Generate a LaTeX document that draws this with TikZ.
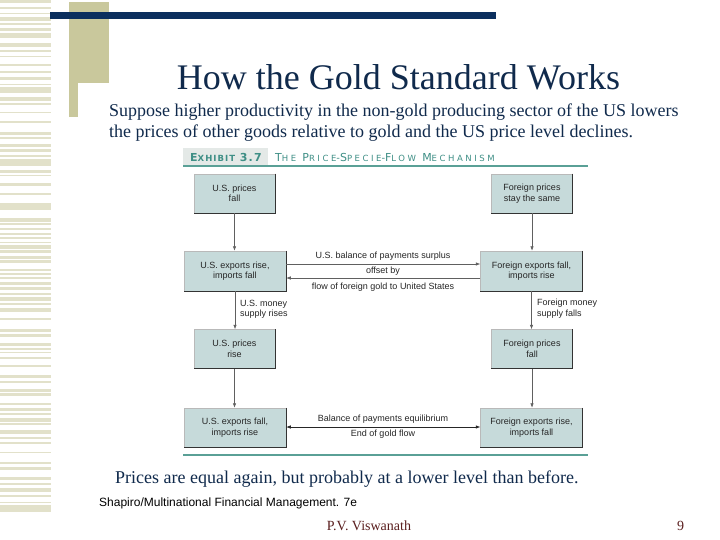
\documentclass[tikz,border=0pt]{standalone}
\usepackage{fontspec}
\setmainfont{Liberation Serif}
\setsansfont{Liberation Sans}
\newfontfamily\hdrA[LetterSpace=12]{DejaVu Sans}
\newfontfamily\hdrB[LetterSpace=30]{DejaVu Sans}
\usetikzlibrary{arrows.meta}
\definecolor{navy}{HTML}{0B2F5E}
\definecolor{tanbar}{HTML}{C9C89C}
\definecolor{stripe}{HTML}{E2E1CA}
\definecolor{titlecol}{HTML}{102A4C}
\definecolor{boxfill}{HTML}{C6DADA}
\definecolor{tealline}{HTML}{5AA096}
\definecolor{tealtext}{HTML}{3F8F86}
\definecolor{tabgray}{HTML}{E4E9E7}
\definecolor{authcol}{HTML}{5A1E1E}
\newcommand\fsc[2]{{\fontsize{11}{11}\selectfont #1}{\fontsize{8.5}{8.5}\selectfont #2}}
\tikzset{
  fbox/.style={fill=boxfill, draw=gray!55, line width=0.5pt, inner sep=0pt,
    font=\sffamily\fontsize{9}{10.5}\selectfont, align=center, text=black!85},
  flow/.style={draw=gray!75!black, line width=0.6pt, -{Latex[length=4.5pt,width=3.5pt]}},
  bothflow/.style={draw=black!85, line width=0.6pt, {Latex[length=4.5pt,width=3.5pt]}-{Latex[length=4.5pt,width=3.5pt]}},
  lab/.style={font=\sffamily\fontsize{9}{10.5}\selectfont, inner sep=0pt, text=black!85},
  shade/.style={draw=black!80, line width=0.8pt},
}
\begin{document}
\begin{tikzpicture}[x=1pt,y=-1pt]
\useasboundingbox (0,0) rectangle (720,540);
\fill[white] (0,0) rectangle (720,540);
% left stripes
\foreach \a/\b in {0/3, 7/9, 13/14, 17/21, 23/25, 28/31, 33/38, 43/47, 50/52, 56/57, 64/66, 71/73, 77/80, 84/85, 87/93, 97/101, 103/105, 112/113, 121/123, 132/135, 137/139, 144/147, 149/152, 155/157, 159/166, 170/173, 175/176, 183/186, 193/195, 203/210, 218/222, 223/225, 228/230, 233/235, 237/239, 242/243, 245/249, 250/253, 256/259, 260/263, 269/271, 273/275, 277/279, 282/285, 287/290, 293/295, 297/301, 303/305, 308/312, 318/320, 329/332, 334/337, 343/346, 348/350, 352/353, 357/359, 365/367, 375/378, 381/383, 389/392, 393/396, 403/405, 408/411, 413/415, 418/422, 423/425, 430/434, 437/439, 442/444, 452/453, 462/464, 467/470, 477/480, 483/485, 488/492, 495/497, 502/503, 505/512}
  \fill[stripe] (0,\a) rectangle (51,\b);
% tan block and navy bar
\fill[tanbar] (69,2) rectangle (109,83);
\fill[tanbar] (69,83) rectangle (78,117);
\fill[navy] (50,12) rectangle (496,19);
% title and texts
\node[inner sep=0pt, anchor=base, text=titlecol, font=\fontsize{36}{36}\selectfont] (title) at (398.5,90) {How the Gold Standard Works};
\node[inner sep=0pt, anchor=base west, text=titlecol, font=\fontsize{18}{18}\selectfont] (sub1) at (109,117) {Suppose higher productivity in the non-gold producing sector of the US lowers};
\node[inner sep=0pt, anchor=base west, text=titlecol, font=\fontsize{18}{18}\selectfont] (sub2) at (109,138) {the prices of other goods relative to gold and the US price level declines.};
% exhibit header
\fill[tabgray] (183,148) rectangle (268,166);
\node[inner sep=0pt, anchor=base west, text=tealtext, font=\hdrA\bfseries] (ex) at (190,162) {\fsc{E}{XHIBIT} \fsc{3.7}{}};
\node[inner sep=0pt, anchor=base west, text=tealtext, font=\hdrB] (extitle) at (275,162) {\fsc{T}{HE} \fsc{P}{RICE}-\fsc{S}{PECIE}-\fsc{F}{LOW} \fsc{M}{ECHANISM}};
\fill[tealline] (183,165) rectangle (588,167);
\fill[tealline] (183,454) rectangle (588,456);
% boxes
\node[fbox, minimum width=81pt, minimum height=39pt] (a1) at (234.5,193.5) {U.S. prices\\fall};
\node[fbox, minimum width=81pt, minimum height=39pt] (b1) at (532,193.5) {Foreign prices\\stay the same};
\node[fbox, minimum width=102pt, minimum height=40pt] (a2) at (235,271) {U.S. exports rise,\\imports fall};
\node[fbox, minimum width=102pt, minimum height=40pt] (b2) at (531.5,271) {Foreign exports fall,\\imports rise};
\node[fbox, minimum width=81pt, minimum height=39pt] (a3) at (234.5,349) {U.S. prices\\rise};
\node[fbox, minimum width=81pt, minimum height=39pt] (b3) at (532,349) {Foreign prices\\fall};
\node[fbox, minimum width=102pt, minimum height=39pt] (a4) at (235,427.5) {U.S. exports fall,\\imports rise};
\node[fbox, minimum width=102pt, minimum height=39pt] (b4) at (531.5,427.5) {Foreign exports rise,\\imports fall};
\foreach \n in {a1,b1,a2,b2,a3,b3,a4,b4}
  \draw[shade] (\n.north east) -- (\n.south east) -- (\n.south west);
% vertical arrows
\draw[flow] (a1.south) -- (a1.south |- a2.north);
\draw[flow] (b1.south) -- (b1.south |- b2.north);
\draw[flow] (a2.south) -- (a2.south |- a3.north);
\draw[flow] (b2.south) -- (b2.south |- b3.north);
\draw[flow] (a3.south) -- (a3.south |- a4.north);
\draw[flow] (b3.south) -- (b3.south |- b4.north);
% side labels
\node[lab, anchor=north west, align=left] (ml) at (240,300) {U.S. money\\supply rises};
\node[lab, anchor=north west, align=left] (mr) at (537,299) {Foreign money\\supply falls};
% horizontal arrows
\coordinate (u) at (383,264);
\coordinate (v) at (383,278);
\coordinate (w) at (383,427);
\draw[flow] (a2.east |- u) -- (b2.west |- u);
\draw[flow] (b2.west |- v) -- (a2.east |- v);
\draw[bothflow] (a4.east |- w) -- (b4.west |- w);
\node[lab] (h1) at (383,256) {U.S. balance of payments surplus};
\node[lab] (h2) at (383,271) {offset by};
\node[lab] (h3) at (383,287) {flow of foreign gold to United States};
\node[lab] (h4) at (383,419.5) {Balance of payments equilibrium};
\node[lab] (h5) at (383,434.5) {End of gold flow};
% bottom texts
\node[inner sep=0pt, anchor=base west, text=titlecol, font=\fontsize{18}{18}\selectfont] (cap) at (115,483) {Prices are equal again, but probably at a lower level than before.};
\node[inner sep=0pt, anchor=base west, font=\sffamily\fontsize{12}{12}\selectfont] (src) at (99,506) {Shapiro/Multinational Financial Management. 7e};
\node[inner sep=0pt, anchor=base, text=authcol, font=\fontsize{14}{14}\selectfont] (auth) at (369,530) {P.V. Viswanath};
\node[inner sep=0pt, anchor=base, text=authcol, font=\fontsize{14}{14}\selectfont] (pg) at (680.5,530) {9};
\end{tikzpicture}
\end{document}
